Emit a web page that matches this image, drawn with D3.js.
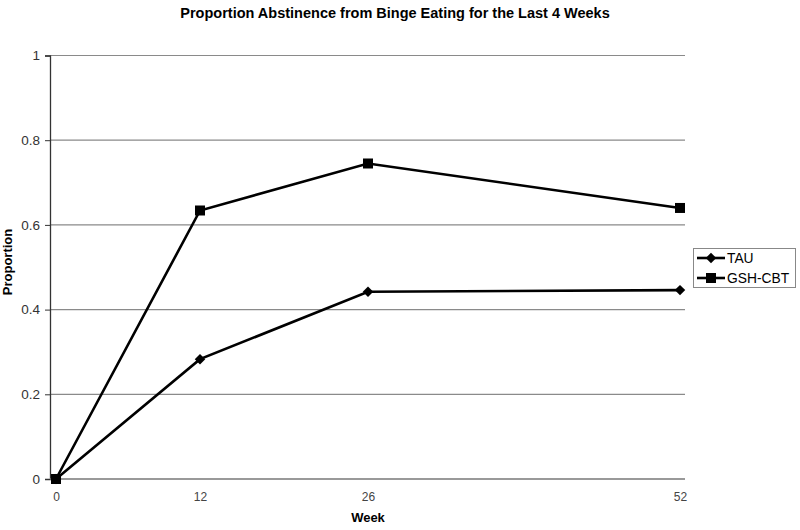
<!DOCTYPE html>
<meta charset="utf-8">
<script src="https://d3js.org/d3.v7.min.js"></script>
<style>
  body { margin: 0; background: white; }
  text { font-family: "Liberation Sans", Arial, sans-serif; }
</style>
<body>
<svg id="chart" width="800" height="530"></svg>
<script>

// chart data
var weeks = [0, 12, 26, 52];
var tau = [0, 0.283, 0.442, 0.446];
var gshcbt = [0, 0.634, 0.745, 0.640];
var seriesNames = ["TAU", "GSH-CBT"];
var yTicks = [0, 0.2, 0.4, 0.6, 0.8, 1];

var svg = d3.select("#chart");

// plot area (note: "top" is taken by window.top, so use other names)
var plotLeft = 50, plotRight = 685, plotTop = 55.5, plotBottom = 479;

var x = d3.scaleLinear().domain([0, 52]).range([56, 680]);
var y = d3.scaleLinear().domain([0, 1]).range([plotBottom, plotTop]);

// gridlines
svg.append("g")
  .selectAll("line")
  .data(yTicks.filter(d => d > 0))
  .enter().append("line")
    .attr("x1", plotLeft).attr("x2", plotRight)
    .attr("y1", d => y(d)).attr("y2", d => y(d))
    .attr("stroke", "#8a8a8a")
    .attr("stroke-width", 1.2);

// y axis
var yAxis = svg.append("g")
  .attr("transform", "translate(" + plotLeft + ",0)")
  .call(d3.axisLeft(y).tickValues(yTicks).tickFormat(d3.format("")).tickSize(5).tickPadding(5));
yAxis.select(".domain").attr("stroke", "#333").attr("stroke-width", 1.3);
yAxis.selectAll(".tick line").attr("stroke", "#333");
yAxis.selectAll(".tick text").attr("font-size", 13.5).attr("fill", "#333")
  .style("font-family", "Liberation Sans, Arial, sans-serif");

// x axis
var xAxis = svg.append("g")
  .attr("transform", "translate(0," + plotBottom + ")")
  .call(d3.axisBottom(x).tickValues(weeks).tickSize(0).tickPadding(13));
xAxis.select(".domain").attr("d", "M" + plotLeft + ",0H" + plotRight).attr("stroke", "#777").attr("stroke-width", 1.3);
xAxis.selectAll(".tick text").attr("font-size", 12).attr("fill", "#444")
  .style("font-family", "Liberation Sans, Arial, sans-serif");

// lines
var line = d3.line().x((d, i) => x(weeks[i])).y(d => y(d));

svg.append("path").datum(tau)
  .attr("fill", "none").attr("stroke", "black").attr("stroke-width", 2.6)
  .attr("d", line);
svg.append("path").datum(gshcbt)
  .attr("fill", "none").attr("stroke", "black").attr("stroke-width", 2.6)
  .attr("d", line);

// markers
var diamond = d3.symbol().type(d3.symbolDiamond2).size(70);
svg.append("g").selectAll("path")
  .data(tau)
  .enter().append("path")
    .attr("d", diamond)
    .attr("transform", (d, i) => "translate(" + x(weeks[i]) + "," + y(d) + ")")
    .attr("fill", "black");

svg.append("g").selectAll("rect")
  .data(gshcbt)
  .enter().append("rect")
    .attr("x", (d, i) => x(weeks[i]) - 5)
    .attr("y", d => y(d) - 5)
    .attr("width", 10).attr("height", 10)
    .attr("fill", "black");

// title
svg.append("text")
  .attr("x", 395).attr("y", 18)
  .attr("text-anchor", "middle")
  .attr("font-size", 14.5).attr("font-weight", "bold")
  .text("Proportion Abstinence from Binge Eating for the Last 4 Weeks");

// axis titles
svg.append("text")
  .attr("x", 368).attr("y", 522)
  .attr("text-anchor", "middle")
  .attr("font-size", 13).attr("font-weight", "bold")
  .text("Week");

svg.append("text")
  .attr("transform", "translate(12,262) rotate(-90)")
  .attr("text-anchor", "middle")
  .attr("font-size", 13).attr("font-weight", "bold")
  .text("Proportion");

// legend
var legend = svg.append("g");
legend.append("rect")
  .attr("x", 693.5).attr("y", 248.5)
  .attr("width", 102).attr("height", 39)
  .attr("fill", "white").attr("stroke", "#888");

seriesNames.forEach(function(name, i) {
  var ly = 258 + i * 20;
  legend.append("line")
    .attr("x1", 697).attr("x2", 725)
    .attr("y1", ly).attr("y2", ly)
    .attr("stroke", "black").attr("stroke-width", 2.6);
  if (i == 0) {
    legend.append("path")
      .attr("d", diamond)
      .attr("transform", "translate(711," + ly + ")");
  } else {
    legend.append("rect")
      .attr("x", 706).attr("y", ly - 5)
      .attr("width", 10).attr("height", 10);
  }
  legend.append("text")
    .attr("x", 727).attr("y", ly + 5)
    .attr("font-size", 13.8)
    .text(name);
});

</script>
</body>
